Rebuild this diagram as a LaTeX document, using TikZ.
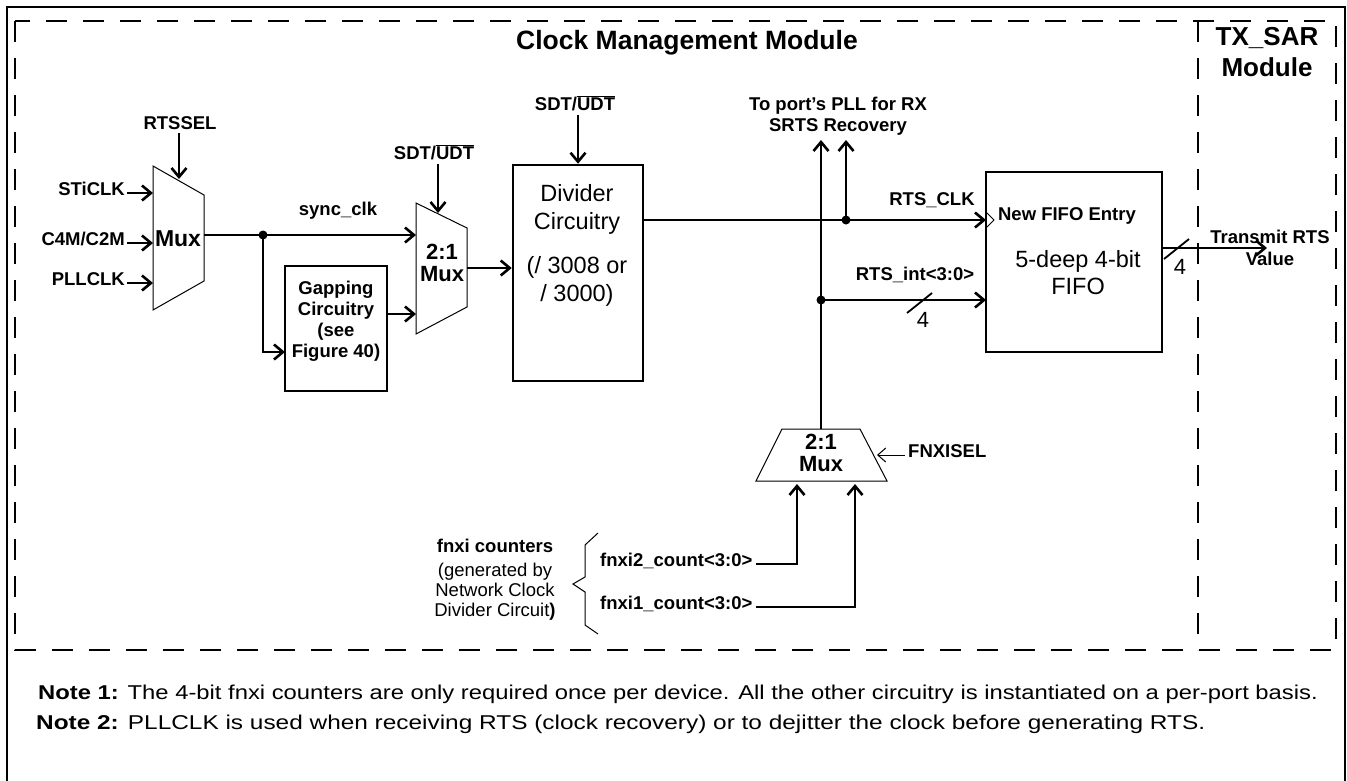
\documentclass[tikz,border=0pt]{standalone}
\usepackage{fontspec}
\usepackage{graphicx}
\setmainfont{Liberation Sans}
\usetikzlibrary{arrows.meta}
\begin{document}
\begin{tikzpicture}[x=1pt,y=-1pt,
  wire/.style={line width=2.6pt},
  arr/.style={wire,-{Straight Barb[length=9pt,width=15pt]}},
  thinln/.style={line width=1pt},
  lbl/.style={font=\fontsize{18.5}{21}\selectfont\bfseries,inner sep=0pt},
  ml/.style={lbl,align=center},
  muxl/.style={font=\fontsize{22}{22}\selectfont\bfseries,inner sep=0pt,align=center},
  big/.style={font=\fontsize{23.5}{28}\selectfont,inner sep=0pt,align=center},
  num/.style={font=\fontsize{22}{22}\selectfont,inner sep=0pt,anchor=mid},
  box/.style={draw,line width=2.5pt,inner sep=0pt},
  dot/.style={circle,fill,inner sep=0pt,minimum size=9pt},
  dsh/.style={line width=2.5pt,dash pattern=on 21pt off 16pt},
]
\useasboundingbox (0,0) rectangle (1347,780);
% frames
\draw[line width=2.5pt] (7,782) -- (7,7) -- (1345,7) -- (1345,782);
\draw[dsh] (15,21) rectangle (1336,650);
\draw[dsh] (1198,21) -- (1198,650);
\node[font=\fontsize{26.5}{30}\selectfont\bfseries,inner sep=0pt,anchor=mid] (title) at (687,47) {Clock Management Module};
\node[font=\fontsize{26}{31}\selectfont\bfseries,inner sep=0pt,align=center] (txsar) at (1267,52) {TX\_SAR\\Module};

% Mux 1
\draw[thinln] (153,166) -- (204,195) -- (204,281) -- (153,310) -- cycle;
\node[font=\fontsize{23}{23}\selectfont\bfseries,inner sep=0pt] (m1) at (178,239) {Mux};
\coordinate (m1sel) at (179,179);
\coordinate (m1i1) at (153,193);
\coordinate (m1i2) at (153,243);
\coordinate (m1i3) at (153,283);
\coordinate (m1o) at (204,235);
\node[lbl,anchor=mid] (rtssel) at (180,127) {RTSSEL};
\draw[arr] (rtssel.south -| m1sel) ++(0,3) -- (m1sel);
\node[lbl,anchor=mid east] (sticlk) at (125,193) {STiCLK};
\node[lbl,anchor=mid east] (c4m) at (125,243) {C4M/C2M};
\node[lbl,anchor=mid east] (pllclk) at (125,283) {PLLCLK};
\draw[arr] ([xshift=2pt]sticlk.mid east) -- (m1i1);
\draw[arr] ([xshift=2pt]c4m.mid east) -- (m1i2);
\draw[arr] ([xshift=2pt]pllclk.mid east) -- (m1i3);

% sync_clk and gapping
\coordinate (m2i1) at (416,235);
\coordinate (m2i2) at (416,314);
\node[dot] (j1) at (263,235) {};
\draw[arr] (m1o) -- (m2i1);
\node[lbl,anchor=mid] (sync) at (338,213) {sync\_clk};
\node[box,minimum width=102pt,minimum height=125pt] (gap) at (336,328.5) {};
\node[ml] (gaptxt) at (336,321) {Gapping\\Circuitry\\(see\\Figure 40)};
\coordinate (gapin) at (285,352);
\draw[arr] (j1.center) |- (gapin);
\draw[arr] (gap.east |- m2i2) -- (m2i2);

% Mux 2
\draw[thinln] (416,203) -- (467,228) -- (467,307) -- (416,334) -- cycle;
\node[muxl] (m2) at (442,263) {2:1\\Mux};
\coordinate (m2sel) at (438,213);
\coordinate (m2o) at (467,268);
\node[lbl,anchor=mid] (sdt1) at (434,157) {SDT/$\overline{\hbox{UDT}}$};
\draw[arr] (sdt1.south -| m2sel) ++(0,4) -- (m2sel);

% Divider
\node[box,minimum width=130pt,minimum height=216pt] (div) at (578,273) {};
\node[big] (divtxt) at (577,245) {Divider\\Circuitry\\[16pt](/ 3008 or\\/ 3000)};
\draw[arr] (m2o) -- (div.west |- m2o);
\node[lbl,anchor=mid] (sdt2) at (575,108) {SDT/$\overline{\hbox{UDT}}$};
\draw[arr] (sdt2.south -| div.north) ++(0,4) -- (div.north);

% FIFO
\node[box,minimum width=176pt,minimum height=180pt] (fifo) at (1074,262) {};
\draw[thinln] (986,212) -- (994,220) -- (986,228);
\node[lbl,anchor=mid] (newf) at (1067,218) {New FIFO Entry};
\node[big,font=\fontsize{23.5}{27}\selectfont] (fifotxt) at (1078,273) {5-deep 4-bit\\FIFO};
\coordinate (fclk) at (986,220);
\coordinate (fdat) at (986,300);
\coordinate (divo) at (643,220);
\draw[arr] (divo) -- (fclk);
\node[lbl,anchor=mid] (rtsclk) at (932,203) {RTS\_CLK};
\node[dot] (j2) at (846,220) {};
\node[dot] (j3) at (821,300) {};
\coordinate (up1) at (821,140);
\coordinate (up2) at (846,140);
\coordinate (m3o) at (821,429);
\draw[arr] (m3o) -- (up1);
\draw[arr] (j2.center) -- (up2);
\node[lbl,align=center] (toport) at (838,116) {To port’s PLL for RX\\SRTS Recovery};
\draw[arr] (j3.center) -- (fdat);
\node[lbl,anchor=mid] (rtsint) at (915,278) {RTS\_int<3:0>};
\draw[line width=1.8pt] (907,313) -- (932,293);
\node[num] (n4a) at (923,325) {4};

% output
\coordinate (txo) at (1267,248);
\draw[arr] (fifo.east |- txo) -- (txo);
\draw[line width=1.8pt] (1164,259) -- (1189,239);
\node[num] (n4b) at (1180,272) {4};
\node[lbl,align=center,font=\fontsize{18.5}{22}\selectfont\bfseries] (trans) at (1270,248) {Transmit RTS\\Value};

% Mux 3
\draw[thinln] (782,429) -- (860,429) -- (887,481) -- (756,481) -- cycle;
\node[muxl] (m3) at (821,453) {2:1\\Mux};
\coordinate (m3sel) at (877,455);
\coordinate (m3i1) at (797,484);
\coordinate (m3i2) at (855,484);
\node[lbl,anchor=mid west] (fsel) at (908,455) {FNXISEL};
\draw[thinln,-{Straight Barb[length=8pt,width=14pt]}] ([xshift=-3pt]fsel.mid west) -- (m3sel);
\node[lbl,anchor=mid west] (f2) at (600,564) {fnxi2\_count<3:0>};
\node[lbl,anchor=mid west] (f1) at (600,607) {fnxi1\_count<3:0>};
\draw[arr] ([xshift=3pt]f2.mid east) -| (m3i1);
\draw[arr] ([xshift=3pt]f1.mid east) -| (m3i2);

% brace
\draw[thinln] (598,533) -- (585,545) -- (585,577) -- (573,584) -- (585,592) -- (585,625) -- (598,634);
\node[font=\fontsize{18.5}{20}\selectfont,align=center,inner sep=0pt] (fnxi) at (495,580) {\textbf{fnxi counters}\\[4pt](generated by\\Network Clock\\Divider Circuit\textbf{)}};

% notes
\node[anchor=mid west,inner sep=0pt,font=\fontsize{20}{20}\selectfont] (note1) at (38,697) {\scalebox{1.19}[1]{\textbf{Note 1:} The 4-bit fnxi counters are only required once per device. All the other circuitry is instantiated on a per-port basis.}};
\node[anchor=mid west,inner sep=0pt,font=\fontsize{20}{20}\selectfont] (note2) at (36,727) {\scalebox{1.22}[1]{\textbf{Note 2:} PLLCLK is used when receiving RTS (clock recovery) or to dejitter the clock before generating RTS.}};
\end{tikzpicture}
\end{document}
